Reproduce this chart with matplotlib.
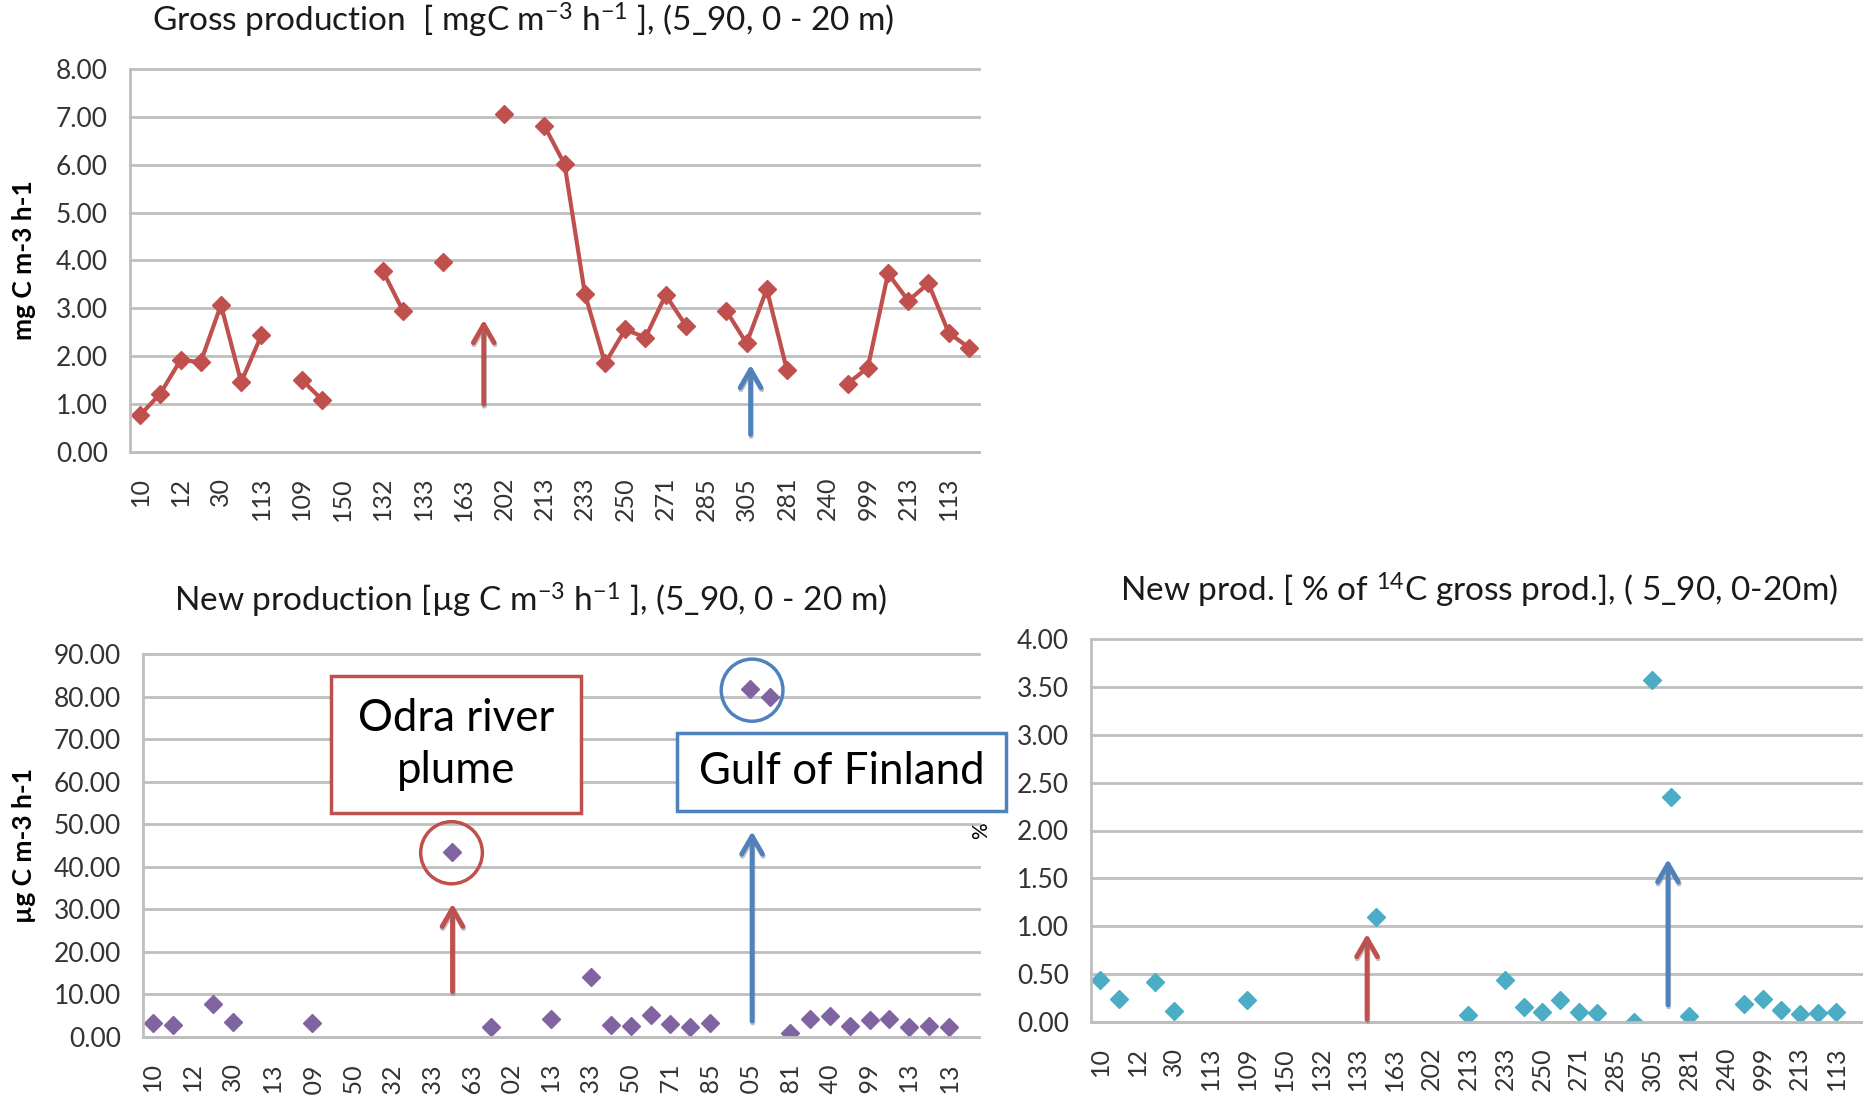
import numpy as np
import matplotlib.pyplot as plt
import matplotlib.patheffects as pe
from matplotlib.patches import Ellipse, Rectangle, FancyArrowPatch

plt.rcParams['font.family'] = ['Lato', 'DejaVu Sans']
plt.rcParams['mathtext.fontset'] = 'custom'
plt.rcParams['mathtext.rm'] = 'Lato'
plt.rcParams['mathtext.it'] = 'Lato:italic'
plt.rcParams['mathtext.bf'] = 'Lato:bold'

nan = np.nan

# station labels (only every second station is labelled on the axis)
station_labels = ['10', '12', '30', '113', '109', '150', '132', '133', '163', '202', '213',
                  '233', '250', '271', '285', '305', '281', '240', '999', '213', '113']
n_stations = 42

# gross production [mgC m-3 h-1]
gross = [0.77, 1.22, 1.92, 1.88, 3.07, 1.46, 2.44, nan, 1.51, 1.09,
         nan, nan, 3.79, 2.95, nan, 3.97, nan, nan, 7.06, nan,
         6.81, 6.01, 3.31, 1.85, 2.56, 2.39, 3.28, 2.64, nan, 2.95,
         2.27, 3.40, 1.71, nan, nan, 1.43, 1.76, 3.73, 3.16, 3.52,
         2.49, 2.18]

# new production [ug C m-3 h-1]
new = [3.4, 2.9, nan, 7.8, 3.5, nan, nan, nan, 3.3, nan,
       nan, nan, nan, nan, nan, 43.5, nan, 2.3, nan, nan,
       4.2, nan, 14.1, 2.8, 2.7, 5.2, 3.1, 2.3, 3.4, nan,
       81.8, 80.0, 0.9, 4.2, 5.0, 2.5, 3.9, 4.2, 2.3, 2.5,
       2.3, nan]

# new production as % of 14C gross production
pct = [0.44, 0.24, nan, 0.42, 0.12, nan, nan, nan, 0.23, nan,
       nan, nan, nan, nan, nan, 1.10, nan, nan, nan, nan,
       0.07, nan, 0.44, 0.16, 0.10, 0.23, 0.10, 0.09, nan, 0.00,
       3.57, 2.35, 0.06, nan, nan, 0.19, 0.24, 0.13, 0.08, 0.09,
       0.10, nan]

RED = '#C0504D'
BLUE = '#4F81BD'
PURPLE = '#8064A2'
CYAN = '#4BACC6'
GRID = '#BEBEBE'

W, H = 1863, 1095
fig = plt.figure(figsize=(W / 100, H / 100), dpi=100)
fig.patch.set_facecolor('white')


def axes_px(l, t, r, b):
    return fig.add_axes([l / W, 1 - b / H, (r - l) / W, (b - t) / H])


def fig_xy(x, y):
    return x / W, 1 - y / H


def style(ax, ymax, step):
    ax.set_xlim(-0.5, n_stations - 0.5)
    ax.set_ylim(0, ymax)
    ax.set_yticks(np.arange(0, ymax + step / 2, step))
    ax.yaxis.set_major_formatter('{x:.2f}')
    ax.set_xticks(range(0, n_stations, 2))
    ax.set_xticklabels(station_labels, rotation=90, fontsize=18)
    ax.grid(axis='y', color=GRID, lw=2)
    for gl in ax.get_ygridlines():
        gl.set_clip_on(False)
    ax.set_axisbelow(True)
    for s in ['top', 'right']:
        ax.spines[s].set_visible(False)
    for s in ['left', 'bottom']:
        ax.spines[s].set_color(GRID)
        ax.spines[s].set_linewidth(2)
    ax.tick_params(axis='y', length=0, pad=16, labelsize=19, colors='#333333')
    ax.tick_params(axis='x', length=0, pad=18, colors='#333333')


def arrow(ax, x, y0, y1, color):
    a = FancyArrowPatch((x, y0), (x, y1), arrowstyle='->,head_length=1.3,head_width=0.75',
                        mutation_scale=10, lw=3.5, color=color, clip_on=False, zorder=4,
                        path_effects=[pe.SimpleLineShadow(offset=(0.5, -1.5), shadow_color='#808080', alpha=0.5),
                                      pe.Normal()])
    ax.add_patch(a)


x = np.arange(n_stations)

# gross production
ax1 = axes_px(130, 69, 979, 452)
style(ax1, 8, 1)
ax1.plot(x, gross, color=RED, lw=3, marker='D', ms=9)
ax1.set_ylabel('mg C m-3 h-1', fontweight='bold', fontsize=19, va='center')
ax1.yaxis.set_label_coords((24 - 130) / 849, 0.5)
arrow(ax1, 17, 0.94, 2.82, RED)
arrow(ax1, 30.2, 0.31, 1.88, BLUE)
fig.text(*fig_xy(523, 20), r'Gross production  [ mgC m$^{-3}$ h$^{-1}$ ], (5_90, 0 - 20 m)',
         ha='center', va='center', fontsize=24, color='#1a1a1a')

# new production
ax2 = axes_px(143, 654, 979, 1037)
style(ax2, 90, 10)
ax2.plot(x, new, ls='none', marker='D', ms=9, color=PURPLE)
ax2.set_ylabel('µg C m-3 h-1', fontweight='bold', fontsize=19, va='center')
ax2.yaxis.set_label_coords((24 - 143) / 836, 0.5)
arrow(ax2, 15.05, 10.0, 32.0, RED)
arrow(ax2, 30.1, 3.1, 49.0, BLUE)
ax2.add_patch(Ellipse((15.0, 43.3), 3.1, 14.6, fill=False, ec=RED, lw=2.5, zorder=4))
ax2.add_patch(Ellipse((30.1, 81.5), 3.1, 14.6, fill=False, ec=BLUE, lw=2.5, zorder=4))
fig.text(*fig_xy(531, 600), r'New production [µg C m$^{-3}$ h$^{-1}$ ], (5_90, 0 - 20 m)',
         ha='center', va='center', fontsize=24, color='#1a1a1a')

# new production, % of gross
ax3 = axes_px(1091, 639, 1864, 1022)
style(ax3, 4, 0.5)
ax3.plot(x, pct, ls='none', marker='D', ms=9, color=CYAN)
ax3.set_ylabel('%', fontsize=15, va='center')
ax3.yaxis.set_label_coords((981 - 1091) / 773, 0.5)
arrow(ax3, 14.5, 0.0, 0.95, RED)
arrow(ax3, 30.85, 0.15, 1.73, BLUE)
fig.text(*fig_xy(1479, 590), r'New prod. [ % of $^{14}$C gross prod.], ( 5_90, 0-20m)',
         ha='center', va='center', fontsize=24, color='#1a1a1a')

# callout boxes
for (l, t, r, b), col, txt in [((331, 676, 581, 813), RED, 'Odra river\nplume'),
                               ((677, 733, 1006, 811), BLUE, 'Gulf of Finland')]:
    x0, y0 = fig_xy(l, b)
    fig.add_artist(Rectangle((x0, y0), (r - l) / W, (b - t) / H, transform=fig.transFigure,
                             facecolor='white', edgecolor=col, lw=2.5, zorder=5))
    fig.text(*fig_xy((l + r) / 2, (t + b) / 2), txt, ha='center', va='center',
             fontsize=31.5, color='black', linespacing=1.35, zorder=6)

fig.savefig('out.png', dpi=100)
